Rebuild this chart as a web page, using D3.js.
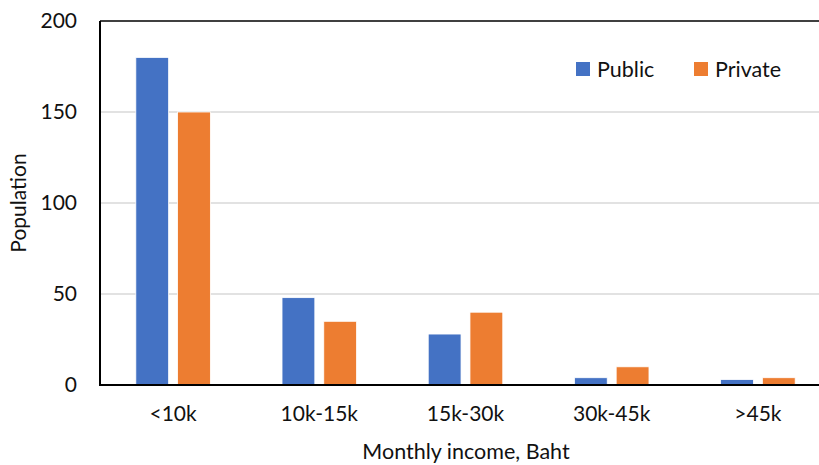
<!DOCTYPE html>
<html><head><meta charset="utf-8">
<script src="https://cdn.jsdelivr.net/npm/d3@7"></script>
<style>body{margin:0;background:#fff}svg{display:block;font-family:Lato,"Open Sans",sans-serif}</style>
</head><body><svg id="c" width="819" height="465"></svg>
<script>
const categories = ["<10k","10k-15k","15k-30k","30k-45k",">45k"];
const seriesNames = ["Public","Private"];
const publicValues = [180,48,28,4,3];
const privateValues = [150,35,40,10,4];
const yTicks = [0,50,100,150,200];
const colors = ["#4472C4","#ED7D31"];

(function(){
const svg = d3.select("#c");
const mLeft = 100, mTop = 21, mBottom = 385, mRight = 831;
const fs = 21;
const x = d3.scaleBand().domain(categories).range([mLeft,mRight]).paddingInner(0.49).paddingOuter(0.245);
const xs = d3.scaleBand().domain(seriesNames).range([0,x.bandwidth()]).paddingInner(0.214);
const y = d3.scaleLinear().domain([0,200]).range([mBottom,mTop]);

svg.append("g").selectAll("line").data(yTicks.filter(t=>t>0&&t<200)).join("line")
  .attr("x1",mLeft).attr("x2",mRight).attr("y1",d=>y(d)).attr("y2",d=>y(d))
  .attr("stroke","#d9d9d9").attr("stroke-width",1.3);

const data = categories.map((c,i)=>({c, vals:[publicValues[i],privateValues[i]]}));
svg.append("g").selectAll("g").data(data).join("g")
  .attr("transform",d=>`translate(${x(d.c)},0)`)
  .selectAll("rect").data(d=>d.vals.map((v,j)=>({s:seriesNames[j],v,j}))).join("rect")
  .attr("x",d=>xs(d.s)).attr("width",xs.bandwidth())
  .attr("y",d=>y(d.v)).attr("height",d=>y(0)-y(d.v))
  .attr("fill",d=>colors[d.j]).attr("stroke","#fff").attr("stroke-width",0.8);

svg.append("line").attr("x1",mLeft).attr("x2",mRight).attr("y1",y(200)).attr("y2",y(200)).attr("stroke","#000").attr("stroke-width",1.5);
svg.append("line").attr("x1",mLeft).attr("x2",mLeft).attr("y1",y(200)).attr("y2",y(0)).attr("stroke","#000").attr("stroke-width",2);
svg.append("line").attr("x1",mLeft-1).attr("x2",mRight).attr("y1",y(0)).attr("y2",y(0)).attr("stroke","#000").attr("stroke-width",2);

const yAxis = d3.axisLeft(y).tickValues(yTicks).tickSize(0).tickPadding(23);
const gy = svg.append("g").attr("transform",`translate(${mLeft},0)`).call(yAxis);
gy.select(".domain").remove();
gy.selectAll("text").attr("font-size",fs).attr("fill","#111").style("font-family","Lato,sans-serif");

const xAxis = d3.axisBottom(x).tickSize(0).tickPadding(21);
const gx = svg.append("g").attr("transform",`translate(0,${mBottom})`).call(xAxis);
gx.select(".domain").remove();
gx.selectAll("text").attr("font-size",fs).attr("fill","#111").style("font-family","Lato,sans-serif");

svg.append("text").attr("x",466).attr("y",459).attr("text-anchor","middle").attr("font-size",21.5).attr("fill","#111").text("Monthly income, Baht");
svg.append("text").attr("transform","translate(26,203) rotate(-90)").attr("text-anchor","middle").attr("font-size",21).attr("fill","#111").text("Population");

const legX = [576,694];
const lg = svg.append("g").selectAll("g").data(seriesNames).join("g").attr("transform",(d,i)=>`translate(${legX[i]},62)`);
lg.append("rect").attr("width",14).attr("height",14).attr("fill",(d,i)=>colors[i]);
lg.append("text").attr("x",21).attr("y",15).attr("font-size",21.5).attr("fill","#111").text(d=>d);
})();
</script></body></html>
